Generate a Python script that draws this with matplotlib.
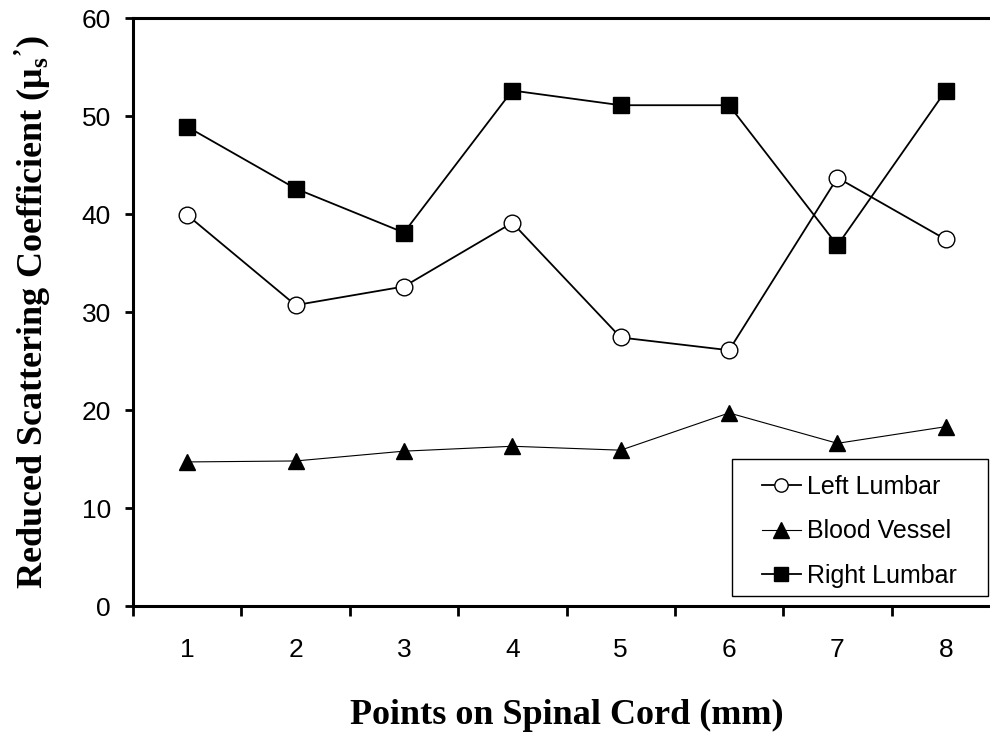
import matplotlib
matplotlib.use("Agg")
import matplotlib.pyplot as plt
from matplotlib.patches import Rectangle
import numpy as np

# valores
points = [1, 2, 3, 4, 5, 6, 7, 8]
left_lumbar = [39.9, 30.7, 32.6, 39.1, 27.4, 26.1, 43.7, 37.4]
blood_vessel = [14.7, 14.8, 15.8, 16.3, 15.9, 19.7, 16.6, 18.3]
right_lumbar = [48.9, 42.6, 38.1, 52.6, 51.1, 51.1, 36.8, 52.6]
y_ticks = [0, 10, 20, 30, 40, 50, 60]

plt.rcParams['font.family'] = ['Liberation Sans', 'DejaVu Sans']
plt.rcParams['mathtext.fontset'] = 'custom'
plt.rcParams['mathtext.rm'] = 'Liberation Serif:bold'
plt.rcParams['mathtext.it'] = 'Liberation Serif:bold'
plt.rcParams['mathtext.bf'] = 'Liberation Serif:bold'

fig = plt.figure(figsize=(9.9, 7.36), dpi=100)
ax = fig.add_axes([133 / 990, 1 - 606 / 736, 867 / 990, 588 / 736])

ax.plot(points, left_lumbar, color='black', linewidth=1.3, marker='o',
        markersize=12, markerfacecolor='white', markeredgecolor='black',
        markeredgewidth=1.0, label='Left Lumbar')
ax.plot(points, blood_vessel, color='black', linewidth=0.8, marker='^',
        markersize=11, markerfacecolor='black', markeredgecolor='black',
        label='Blood Vessel')
ax.plot(points, right_lumbar, color='black', linewidth=1.3, marker='s',
        markersize=12, markerfacecolor='black', markeredgecolor='black',
        label='Right Lumbar')

ax.set_xlim(0.5, 8.5)
ax.set_ylim(0, 60)
ax.set_yticks(y_ticks)
ax.set_yticklabels([str(v) for v in y_ticks], fontsize=19)

# ticks nas fronteiras das categorias, rótulos no centro
ax.set_xticks(np.arange(0.5, 9.0, 1.0))
ax.set_xticklabels([])
ax.set_xticks(points, minor=True)
ax.set_xticklabels([str(p) for p in points], minor=True, fontsize=19)
ax.tick_params(axis='x', which='major', direction='out', length=7, width=2)
ax.tick_params(axis='x', which='minor', length=0, pad=23)
ax.tick_params(axis='y', direction='out', length=6, width=2, pad=10)

for side in ['left', 'bottom', 'top']:
    ax.spines[side].set_linewidth(2.2)
ax.spines['right'].set_visible(False)

ax.set_xlabel('Points on Spinal Cord (mm)', fontsize=26, fontweight='bold',
              family='Liberation Serif', labelpad=27)
ax.set_ylabel("Reduced Scattering Coefficient (μ$_\\mathregular{s}$$^{’}$)",
              fontsize=26, fontweight='bold', family='Liberation Serif', labelpad=20)

# legenda sem moldura + caixa desenhada à parte (padding horizontal maior)
ax.add_patch(Rectangle((0.6909, 0.017), 0.2953, 0.233, transform=ax.transAxes,
                       facecolor='white', edgecolor='black', linewidth=1.0,
                       zorder=4))
leg = ax.legend(loc='upper left', bbox_to_anchor=(0.7255, 0.2228),
                borderaxespad=0, borderpad=0, fontsize=18, frameon=False,
                handlelength=1.55, handletextpad=0.25, labelspacing=0.82,
                markerscale=0.8)
leg.legend_handles[1].set_markersize(11)
leg.set_zorder(5)

fig.savefig('out.png', dpi=100)
